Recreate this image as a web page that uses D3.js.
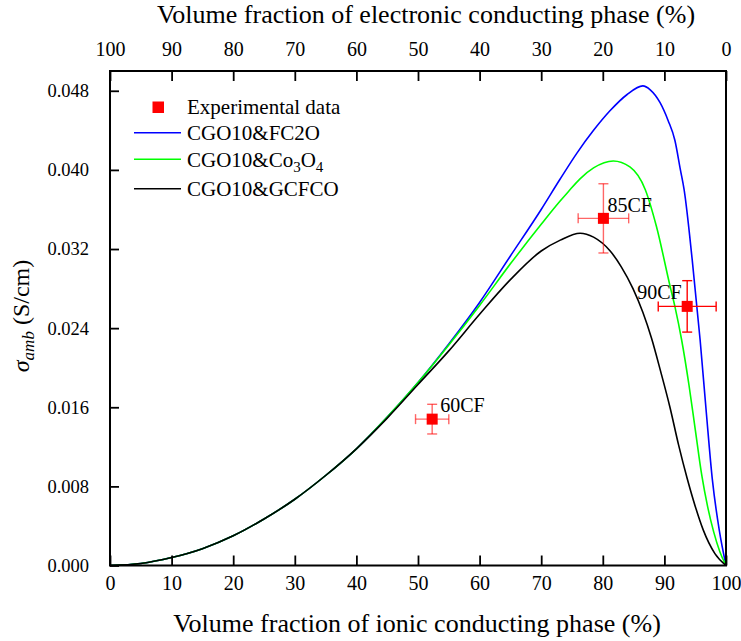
<!DOCTYPE html>
<html>
<head>
<meta charset="utf-8">
<script src="https://cdn.jsdelivr.net/npm/d3@7"></script>
<style>
  html, body { margin: 0; padding: 0; background: #fff; }
  svg { display: block; }
  #chart text { font-family: "Liberation Serif", "Times New Roman", serif; }
</style>
</head>
<body>
<svg id="chart" width="741" height="641"></svg>
<script>
// Ionic phase volume fraction (%) and conductivity (S/cm) for each composite model
const fcoX   = [0, 5, 10, 15, 20, 25, 30, 35, 40, 45, 50, 55, 60, 65, 70, 73, 75.8, 78.5, 81.2, 83.9, 86.5, 87.7, 89.3, 90.6, 91.7, 92.6, 93.2, 94.5, 95.8, 96.8, 97.8, 98.9, 100];
const fcoY   = [0, 0.0002, 0.0008, 0.0017, 0.0030, 0.0047, 0.0067, 0.0091, 0.0118, 0.0150, 0.0185, 0.0224, 0.0266, 0.0313, 0.0360, 0.0390, 0.0417, 0.0440, 0.0460, 0.0476, 0.0485, 0.0481, 0.0468, 0.0450, 0.0430, 0.0400, 0.0380, 0.0310, 0.0228, 0.0155, 0.0086, 0.0036, 0];

const coX    = [0, 5, 10, 15, 20, 25, 30, 35, 40, 45, 50, 55, 60, 65, 70, 73, 74.4, 76.3, 78.5, 81.7, 84.4, 86.9, 88.7, 90.9, 91.7, 92.8, 94, 95, 96.1, 97, 98, 99, 100];
const coY    = [0, 0.0002, 0.0008, 0.0017, 0.0030, 0.0047, 0.0067, 0.0091, 0.0118, 0.0150, 0.0185, 0.0223, 0.0263, 0.0305, 0.0345, 0.0368, 0.0378, 0.0391, 0.0402, 0.0409, 0.0403, 0.0380, 0.0343, 0.0283, 0.0262, 0.0228, 0.0182, 0.0138, 0.0090, 0.0060, 0.0034, 0.0014, 0];

const gcfcoX = [0, 5, 10, 15, 20, 25, 30, 35, 40, 45, 50, 55, 60, 65, 70, 73.1, 76.3, 78.5, 81.2, 83, 84.9, 86.5, 87.9, 89.4, 90.9, 92.3, 93.7, 95, 96.3, 98.2, 100];
const gcfcoY = [0, 0.0002, 0.0008, 0.0017, 0.0030, 0.0047, 0.0067, 0.0091, 0.0118, 0.0149, 0.0183, 0.0217, 0.0254, 0.0289, 0.0318, 0.0329, 0.0336, 0.0332, 0.0318, 0.0302, 0.0280, 0.0256, 0.0230, 0.0196, 0.0160, 0.0122, 0.0088, 0.0060, 0.0036, 0.0012, 0];

// Measured samples with error bars
const expLabels = ["60CF", "85CF", "90CF"];
const expX      = [52.3, 80.1, 93.7];
const expY      = [0.0148, 0.0351, 0.0262];
const expXErr   = [2.7, 4.1, 4.7];
const expYErr   = [0.0015, 0.0035, 0.0026];

const seriesNames  = ["CGO10&FC2O", "CGO10&Co3O4", "CGO10&GCFCO"];
const seriesColors = ["#0000ff", "#00ff00", "#000000"];

const xTicks = [0, 10, 20, 30, 40, 50, 60, 70, 80, 90, 100];
const yTicks = [0, 0.008, 0.016, 0.024, 0.032, 0.040, 0.048];

const svg = d3.select("#chart");
const mLeft = 110, mRight = 726, mTop = 71, mBottom = 565.5;

const x    = d3.scaleLinear().domain([0, 100]).range([mLeft, mRight]);
const xTop = d3.scaleLinear().domain([100, 0]).range([mLeft, mRight]);
const y    = d3.scaleLinear().domain([0, 0.05]).range([mBottom, mTop]);

// Curves
const line = d3.line().x(d => x(d[0])).y(d => y(d[1])).curve(d3.curveMonotoneX);
const series = [
  d3.zip(fcoX, fcoY),
  d3.zip(coX, coY),
  d3.zip(gcfcoX, gcfcoY)
];
const plot = svg.append("g");
plot.append("defs").append("clipPath").attr("id", "clip")
  .append("rect").attr("x", mLeft).attr("y", mTop).attr("width", mRight - mLeft).attr("height", mBottom - mTop);
series.forEach((s, i) => {
  plot.append("path")
    .datum(s)
    .attr("fill", "none")
    .attr("stroke", seriesColors[i])
    .attr("stroke-width", 1.6)
    .attr("clip-path", "url(#clip)")
    .attr("d", line);
});

// Experimental points
const expOpacity = [0.6, 0.6, 1];
const cap = 5;
expX.forEach((vx, i) => {
  const g = svg.append("g").attr("stroke", "#ff0000").attr("stroke-width", 1.4).attr("stroke-opacity", expOpacity[i]);
  const cx = x(vx), cy = y(expY[i]);
  const x0 = x(vx - expXErr[i]), x1 = x(vx + expXErr[i]);
  const y0 = y(expY[i] - expYErr[i]), y1 = y(expY[i] + expYErr[i]);
  g.append("line").attr("x1", x0).attr("x2", x1).attr("y1", cy).attr("y2", cy);
  g.append("line").attr("x1", cx).attr("x2", cx).attr("y1", y0).attr("y2", y1);
  g.append("line").attr("x1", x0).attr("x2", x0).attr("y1", cy - cap).attr("y2", cy + cap);
  g.append("line").attr("x1", x1).attr("x2", x1).attr("y1", cy - cap).attr("y2", cy + cap);
  g.append("line").attr("x1", cx - cap).attr("x2", cx + cap).attr("y1", y0).attr("y2", y0);
  g.append("line").attr("x1", cx - cap).attr("x2", cx + cap).attr("y1", y1).attr("y2", y1);
  svg.append("rect")
    .attr("x", cx - 5.5).attr("y", cy - 5.5)
    .attr("width", 11).attr("height", 11)
    .attr("fill", "#ff0000");
});

// Point labels
const labelDx = [8, 4, -50];
const labelDy = [-7, -6, -7];
expLabels.forEach((t, i) => {
  svg.append("text")
    .attr("x", x(expX[i]) + labelDx[i])
    .attr("y", y(expY[i]) + labelDy[i])
    .attr("font-size", 20)
    .attr("fill", "#000")
    .text(t);
});

// Axes
const gBottom = svg.append("g").attr("transform", `translate(0,${mBottom})`)
  .call(d3.axisBottom(x).tickValues(xTicks).tickSizeInner(-10).tickSizeOuter(0).tickPadding(10));
const gTop = svg.append("g").attr("transform", `translate(0,${mTop})`)
  .call(d3.axisTop(xTop).tickValues(xTicks).tickSizeInner(-10).tickSizeOuter(0).tickPadding(15));
const gLeft = svg.append("g").attr("transform", `translate(${mLeft},0)`)
  .call(d3.axisLeft(y).tickValues(yTicks).tickFormat(d3.format(".3f")).tickSizeInner(-9).tickSizeOuter(0).tickPadding(21));

[[gBottom, 20], [gTop, 20], [gLeft, 18.5]].forEach(([g, fs]) => {
  g.select(".domain").remove();
  g.selectAll(".tick line").attr("stroke", "#000").attr("stroke-width", 1.8);
  g.selectAll(".tick text")
    .attr("font-size", fs)
    .attr("fill", "#000");
});

// Frame
svg.append("rect")
  .attr("x", mLeft).attr("y", mTop)
  .attr("width", mRight - mLeft).attr("height", mBottom - mTop)
  .attr("fill", "none").attr("stroke", "#000").attr("stroke-width", 2);

// Axis titles
svg.append("text")
  .attr("x", 417).attr("y", 632)
  .attr("text-anchor", "middle").attr("font-size", 26).attr("fill", "#000")
  .text("Volume fraction of ionic conducting phase (%)");
svg.append("text")
  .attr("x", 426).attr("y", 23)
  .attr("text-anchor", "middle").attr("font-size", 26).attr("fill", "#000")
  .text("Volume fraction of electronic conducting phase (%)");

const yTitle = svg.append("text")
  .attr("transform", "translate(29,316) rotate(-90)")
  .attr("text-anchor", "middle").attr("font-size", 24).attr("fill", "#000");
yTitle.append("tspan").attr("font-style", "italic").text("σ");
yTitle.append("tspan").attr("font-style", "italic").attr("font-size", 17).attr("dy", 5).text("amb");
yTitle.append("tspan").attr("dy", -5).text(" (S/cm)");

// Legend
const legend = svg.append("g");
legend.append("rect").attr("x", 152.5).attr("y", 101.5).attr("width", 11.5).attr("height", 11.5).attr("fill", "#ff0000");
legend.append("text").attr("x", 187).attr("y", 114).attr("font-size", 21).attr("fill", "#000").text("Experimental data");
const legendY = [132.7, 159.3, 188.7];
seriesNames.forEach((name, i) => {
  legend.append("line")
    .attr("x1", 134).attr("x2", 181)
    .attr("y1", legendY[i]).attr("y2", legendY[i])
    .attr("stroke", seriesColors[i]).attr("stroke-width", 1.6);
  const t = legend.append("text").attr("x", 187).attr("y", legendY[i] + 7.3).attr("font-size", 21).attr("fill", "#000");
  if (name === "CGO10&Co3O4") {
    t.append("tspan").text("CGO10&Co");
    t.append("tspan").attr("font-size", 15).attr("dy", 5).text("3");
    t.append("tspan").attr("dy", -5).text("O");
    t.append("tspan").attr("font-size", 15).attr("dy", 5).text("4");
  } else {
    t.text(name);
  }
});
</script>
</body>
</html>
